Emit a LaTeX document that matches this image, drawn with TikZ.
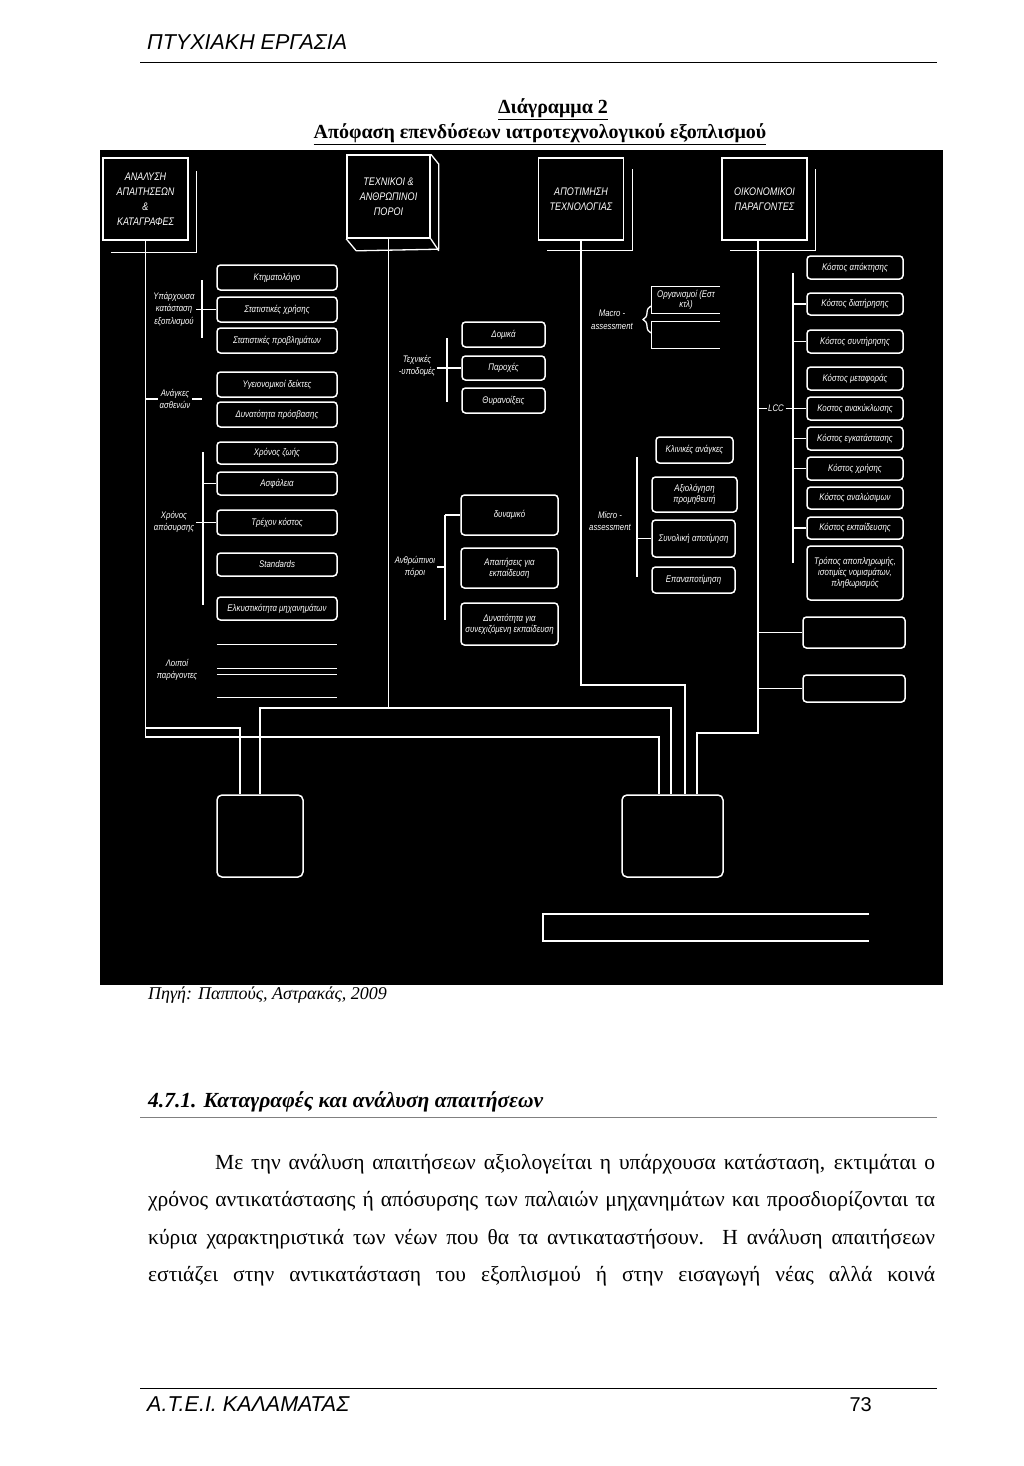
\documentclass[tikz,border=0pt]{standalone}
\usepackage{fontspec}
\setmainfont{Liberation Serif}
\newfontfamily\hsans{Liberation Sans}
\newfontfamily\dgf[FakeStretch=0.82]{Liberation Sans}
\usetikzlibrary{decorations.pathreplacing}
\begin{document}
\begin{tikzpicture}[x=1pt,y=-1pt,
  sz/.style 2 args={minimum width=#1,minimum height=#2},
  wire/.style={draw=white,line width=1.3pt},
  box/.style={draw=white,line width=1.5pt,rounded corners=3.5pt,text=white,align=center,inner sep=1pt,
    font=\dgf\itshape\fontsize{9.6}{11}\selectfont},
  hole/.style={inner sep=0pt},
  lab/.style={text=white,align=center,inner sep=1.5pt,font=\dgf\itshape\fontsize{9.5}{12.5}\selectfont},
  topbox/.style={draw=white,line width=1.6pt,text=white,align=center,inner sep=0pt,
    font=\dgf\itshape\fontsize{11}{15}\selectfont}]
\useasboundingbox (0,0) rectangle (1024,1466);
\fill[white] (0,0) rectangle (1024,1466);
% ---------- page header ----------
\node[anchor=base west,inner sep=0pt,font=\hsans\itshape\fontsize{21.5}{24}\selectfont] (hd) at (147,50) {ΠΤΥΧΙΑΚΗ ΕΡΓΑΣΙΑ};
\draw[line width=0.8pt] (140,62) -- (937,62);
\node[anchor=base,inner sep=0pt,font=\bfseries\fontsize{20}{22}\selectfont] (t1) at (553,114) {\underline{Διάγραμμα 2}};
\node[anchor=base,inner sep=0pt,font=\bfseries\fontsize{20}{22}\selectfont] (t2) at (540,139) {\underline{Απόφαση επενδύσεων ιατροτεχνολογικού εξοπλισμού}};
% ---------- diagram background ----------
\fill[black] (100,150) rectangle (943,985);
% ---------- top boxes ----------
\node[topbox,sz={85}{82}] (A) at (145.5,199) {ΑΝΑΛΥΣΗ\\ΑΠΑΙΤΗΣΕΩΝ\\\&\\ΚΑΤΑΓΡΑΦΕΣ};
\draw[wire] ([shift={(8,14)}]A.north east) |- ([shift={(9,12)}]A.south west);
\node[topbox,sz={83}{83}] (T) at (388.5,196.5) {ΤΕΧΝΙΚΟΙ \&\\ΑΝΘΡΩΠΙΝΟΙ\\ΠΟΡΟΙ};
\draw[wire,line join=round] (T.north east) -- ++(8,10) -- ++(0,85) -- ([shift={(10,12)}]T.south west) -- (T.south west);
\draw[wire] (T.south east) -- ++(8,12);
\node[topbox,sz={85}{82}] (P) at (581,199) {ΑΠΟΤΙΜΗΣΗ\\ΤΕΧΝΟΛΟΓΙΑΣ};
\draw[wire] ([shift={(8,12)}]P.north east) |- ([shift={(9,10)}]P.south west);
\node[topbox,sz={85}{82}] (O) at (764.5,199) {ΟΙΚΟΝΟΜΙΚΟΙ\\ΠΑΡΑΓΟΝΤΕΣ};
\draw[wire] ([shift={(8,12)}]O.north east) |- ([shift={(9,10)}]O.south west);
\coordinate (ob) at (758,240);
% ---------- column 1 ----------
\node[box,sz={120}{25}] (k1) at (277,277.5) {Κτηματολόγιο};
\node[box,sz={120}{25}] (k2) at (277,309.5) {Στατιστικές χρήσης};
\node[box,sz={120}{25}] (k3) at (277,340.5) {Στατιστικές προβλημάτων};
\node[box,sz={120}{25}] (k4) at (277,384.5) {Υγειονομικοί δείκτες};
\node[box,sz={120}{25}] (k5) at (277,414.5) {Δυνατότητα πρόσβασης};
\node[box,sz={120}{22}] (k6) at (277,453) {Χρόνος ζωής};
\node[box,sz={120}{23}] (k7) at (277,483.5) {Ασφάλεια};
\node[box,sz={120}{25}] (k8) at (277,522.5) {Τρέχον κόστος};
\node[box,sz={120}{23}] (k9) at (277,564.5) {Standards};
\node[box,sz={120}{23}] (k10) at (277,608.5) {Ελκυστικότητα μηχανημάτων};
\node[hole,sz={120}{23}] (k11) at (277,656.5) {};
\node[hole,sz={120}{22}] (k12) at (277,686) {};
\foreach \n in {k11,k12}{
  \draw[wire] (\n.north west) -- (\n.north east);
  \draw[wire] (\n.south west) -- (\n.south east);}
\node[lab] (l1) at (174,309) {Υπάρχουσα\\κατάσταση\\εξοπλισμού};
\node[lab] (l2) at (175,399) {Ανάγκες\\ασθενών};
\node[lab] (l3) at (174,522) {Χρόνος\\απόσυρσης};
\node[lab] (l4) at (177,670) {Λοιποί\\παράγοντες};
\coordinate (b1t) at (202,280); \coordinate (b1b) at (202,338);
\coordinate (b2t) at (203,452); \coordinate (b2b) at (203,605);
\draw[wire] (b1t) -- (b1b);
\draw[wire] (b2t) -- (b2b);
\draw[wire] (k2.west) -- (k2.west -| l1.east);
\draw[wire] (l2.west -| A.south) -- (l2.west);
\draw[wire] (l2.east) -- (l2.east -| b1t);
\draw[wire] (k7.west) -- (k7.west -| b2t);
\draw[wire] (k8.west) -- (k8.west -| l3.east);
% ---------- column 2 ----------
\node[box,sz={83}{25}] (d1) at (503.5,334.5) {Δομικά};
\node[box,sz={83}{24}] (d2) at (503.5,368) {Παροχές};
\node[box,sz={83}{25}] (d3) at (503.5,400.5) {Θυρανοίξεις};
\node[lab] (lt) at (417,366) {Τεχνικές\\-υποδομές};
\coordinate (b3t) at (447,338); \coordinate (b3b) at (447,402);
\draw[wire] (b3t) -- (b3b);
\draw[wire] (d2.west) -- (d2.west -| lt.east);
\node[box,sz={97}{40}] (h1) at (509.5,515) {δυναμικό};
\node[box,sz={97}{40}] (h2) at (509.5,568) {Απαιτήσεις για\\εκπαίδευση};
\node[box,sz={97}{42}] (h3) at (509.5,624) {Δυνατότητα για\\συνεχιζόμενη εκπαίδευση};
\node[lab] (lh) at (415,567) {Ανθρώπινοι\\πόροι};
\coordinate (b4t) at (445,515); \coordinate (b4b) at (445,620);
\draw[wire] (b4t) -- (b4b);
\draw[wire] (h1.west) -- (h1.west -| b4t);
\draw[wire] (lh.east) -- (lh.east -| b4t);
% ---------- column 3 ----------
\node[lab] (lma) at (612,320) {Macro -\\assessment};
\node[hole,sz={68}{26},text=white,font=\dgf\itshape\fontsize{9.6}{10.5}\selectfont,align=center] (m1) at (686,300) {Οργανισμοί (Εστ\\κτλ)};
\node[hole,sz={68}{26}] (m2) at (686,335) {};
\foreach \n in {m1,m2}
  \draw[wire] (\n.north east) -- (\n.north west) -- (\n.south west) -- (\n.south east);
\coordinate (bu) at (651,306); \coordinate (bl) at (651,333);
\draw[wire,decorate,decoration={brace,amplitude=8pt}] (bl) -- (bu);
\node[lab] (lmi) at (610,521) {Micro -\\assessment};
\node[box,sz={77}{26}] (n1) at (694.5,450) {Κλινικές ανάγκες};
\node[box,sz={85}{35}] (n2) at (694.5,494.5) {Αξιολόγηση\\προμηθευτή};
\node[box,sz={83}{37}] (n3) at (693.5,538.5) {Συνολική αποτίμηση};
\node[box,sz={83}{26}] (n4) at (693.5,580) {Επαναποτίμηση};
\coordinate (b5t) at (637,457); \coordinate (b5b) at (637,577);
\draw[wire] (b5t) -- (b5b);
\draw[wire] (n3.west) -- (n3.west -| b5t);
% ---------- column 4 ----------
\node[box,sz={96}{23}] (c1) at (855,267.5) {Κόστος απόκτησης};
\node[box,sz={96}{22}] (c2) at (855,304) {Κόστος διατήρησης};
\node[box,sz={96}{23}] (c3) at (855,341.5) {Κόστος συντήρησης};
\node[box,sz={96}{23}] (c4) at (855,378.5) {Κόστος μεταφοράς};
\node[box,sz={96}{23}] (c5) at (855,408.5) {Κοστος ανακύκλωσης};
\node[box,sz={96}{23}] (c6) at (855,438.5) {Κόστος εγκατάστασης};
\node[box,sz={96}{23}] (c7) at (855,468.5) {Κόστος χρήσης};
\node[box,sz={96}{22}] (c8) at (855,498) {Κόστος αναλώσιμων};
\node[box,sz={96}{22}] (c9) at (855,528) {Κόστος εκπαίδευσης};
\node[box,sz={96}{54}] (c10) at (855,573) {Τρόπος αποπληρωμής,\\ισοτιμίες νομισμάτων,\\πληθωρισμός};
\node[box,sz={102}{31}] (c11) at (854,632.5) {};
\node[box,sz={102}{27}] (c12) at (854,688.5) {};
\node[lab] (lcc) at (776,408.5) {LCC};
\coordinate (b6t) at (793,273); \coordinate (b6b) at (793,563);
\draw[wire] (b6t) -- (b6b);
\foreach \n in {c2,c3,c6,c7,c9}
  \draw[wire] (\n.west) -- (\n.west -| b6t);
\draw[wire] (lcc.west) -- (lcc.west -| ob);
\draw[wire] (lcc.east) -- (c5.west);
\draw[wire] (c11.west) -- (c11.west -| ob);
\draw[wire] (c12.west) -- (c12.west -| ob);
% ---------- bottom boxes ----------
\node[box,rounded corners=5pt,sz={86}{82}] (L) at (260,836) {};
\node[box,rounded corners=5pt,sz={101}{82}] (R) at (672.5,836) {};
\node[hole,sz={326}{27}] (W) at (706,927.5) {};
\draw[wire,line width=1.5pt] (W.north east) -- (W.north west) -- (W.south west) -- (W.south east);
% ---------- main routing ----------
\coordinate (ja) at (659,737); \coordinate (jb) at (240,728);
\draw[wire] (A.south) |- (ja) -- (ja |- R.north);
\draw[wire] (A.south |- jb) -- (jb) -- (jb |- L.north);
\coordinate (jc) at (671,708); \coordinate (jd) at (260,708);
\draw[wire] (T.south) -- (T.south |- jc);
\draw[wire] (jd |- L.north) -- (jd) -- (jc) -- (jc |- R.north);
\coordinate (je) at (685,685);
\draw[wire] (P.south) |- (je) -- (je |- R.north);
\coordinate (jf) at (697,733);
\draw[wire] (O.south -| ob) |- (jf) -- (jf |- R.north);
% ---------- text below ----------
\node[anchor=base west,inner sep=0pt,font=\itshape\fontsize{18}{20}\selectfont] (src) at (148,999) {Πηγή: Παππούς, Αστρακάς, 2009};
\node[anchor=base west,inner sep=0pt,font=\bfseries\itshape\fontsize{21.5}{24}\selectfont] (sec) at (148,1107) {4.7.1. Καταγραφές και ανάλυση απαιτήσεων};
\draw[line width=0.6pt,gray] (140,1117) -- (937,1117);
\node[anchor=base west,inner sep=0pt,font=\fontsize{21.5}{24}\selectfont] (p1) at (215,1169) {\makebox[720pt][s]{Με την ανάλυση απαιτήσεων αξιολογείται η υπάρχουσα κατάσταση, εκτιμάται ο}};
\node[anchor=base west,inner sep=0pt,font=\fontsize{21.5}{24}\selectfont] (p2) at (148,1206) {\makebox[787pt][s]{χρόνος αντικατάστασης ή απόσυρσης των παλαιών μηχανημάτων και προσδιορίζονται τα}};
\node[anchor=base west,inner sep=0pt,font=\fontsize{21.5}{24}\selectfont] (p3) at (148,1244) {\makebox[787pt][s]{κύρια χαρακτηριστικά των νέων που θα τα αντικαταστήσουν. Η ανάλυση απαιτήσεων}};
\node[anchor=base west,inner sep=0pt,font=\fontsize{21.5}{24}\selectfont] (p4) at (148,1281) {\makebox[787pt][s]{εστιάζει στην αντικατάσταση του εξοπλισμού ή στην εισαγωγή νέας αλλά κοινά}};
% ---------- footer ----------
\draw[line width=0.8pt] (140,1388) -- (937,1388);
\node[anchor=base west,inner sep=0pt,font=\hsans\itshape\fontsize{21.5}{24}\selectfont] (ft) at (147,1411) {Α.Τ.Ε.Ι. ΚΑΛΑΜΑΤΑΣ};
\node[anchor=base east,inner sep=0pt,font=\hsans\fontsize{20}{22}\selectfont] (pg) at (872,1411) {73};
\end{tikzpicture}
\end{document}
